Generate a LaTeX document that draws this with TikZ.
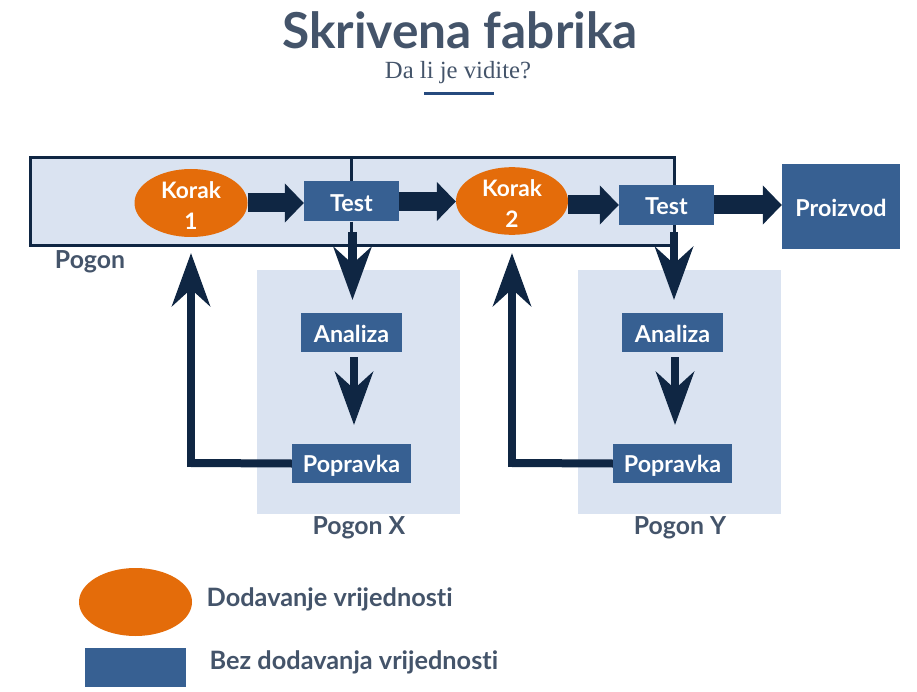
\documentclass[tikz,border=0pt]{standalone}
\usepackage{fontspec}
\setmainfont{Lato}[Ligatures=NoCommon]
\newfontfamily\serifsub{Liberation Serif}
\usetikzlibrary{arrows.meta,shapes.geometric,calc}
\definecolor{paleblue}{HTML}{DAE3F1}
\definecolor{navy}{HTML}{0F2643}
\definecolor{boxblue}{HTML}{376092}
\definecolor{stepor}{HTML}{E46C0A}
\definecolor{slate}{HTML}{44546A}
\definecolor{rulecol}{HTML}{264A7E}
\newcommand{\lowr}[2]{\raisebox{-#1pt}[\height][\depth]{#2}}
\tikzset{
  pxfont/.style={font=\fontsize{#1}{#1}\selectfont\bfseries},
  zone/.style={fill=paleblue,draw=none,inner sep=0pt,anchor=north west},
  bluebox/.style={fill=boxblue,draw=none,inner sep=0pt,text=white,pxfont=23.3},
  stepell/.style={ellipse,fill=stepor,draw=none,inner sep=0pt,text=white,align=center,
     font=\fontsize{22.7}{31}\selectfont\bfseries},
  lbl/.style={text=slate,inner sep=0pt,pxfont=24.8},
  legendlbl/.style={text=slate,inner sep=0pt,pxfont=25.3},
  fatarrow/.style={draw=navy,fill=navy,line width=19pt,
     -{Stealth[length=19pt,width=38pt,inset=0pt,fill=navy]}},
  slimarrow/.style={draw=navy,fill=navy,line width=8.5pt,
     -{Stealth[length=53pt,width=38pt,inset=17pt,fill=navy]}},
  frameline/.style={draw=navy,line width=3pt},
  elbow/.style={draw=navy,line width=8pt}
}
\begin{document}
\begin{tikzpicture}[x=1pt,y=-1pt]
\useasboundingbox (0,0) rectangle (917,692);
% title
\node[text=slate,inner sep=0pt,pxfont=49.6] (title) at (460,30) {Skrivena fabrika};
\node[text=slate,inner sep=0pt,font=\fontsize{24.7}{26}\selectfont\serifsub] (sub) at (458,72.5) {Da li je vidite?};
\node[fill=rulecol,minimum width=70pt,minimum height=3.5pt,inner sep=0pt] (rule) at (459,93.5) {};
% zones
\node[zone,minimum width=644pt,minimum height=87pt] (pogon) at (30,158) {};
\node[zone,minimum width=203pt,minimum height=244pt] (zx) at (257,270) {};
\node[zone,minimum width=203pt,minimum height=244pt] (zy) at (578,270) {};
\draw[frameline] (pogon.north west) rectangle (pogon.south east);
% process nodes
\node[stepell,minimum width=113pt,minimum height=68pt] (k1) at (191,203) {\lowr{2.5}{Korak}\\\lowr{2.5}{1}};
\node[stepell,minimum width=112pt,minimum height=67pt] (k2) at (512,201) {\lowr{2.5}{Korak}\\\lowr{2.5}{2}};
\node[bluebox,minimum width=95pt,minimum height=40pt] (t1) at (351.5,201.5) {\lowr{1.5}{Test}};
\node[bluebox,minimum width=95pt,minimum height=40pt] (t2) at (666.5,205) {\lowr{1.5}{Test}};
\node[bluebox,minimum width=118pt,minimum height=85pt] (prod) at (841,206.5) {\lowr{1}{Proizvod}};
\node[bluebox,minimum width=101pt,minimum height=39pt] (a1) at (351.5,332.5) {\lowr{1}{Analiza}};
\node[bluebox,minimum width=101pt,minimum height=39pt] (a2) at (672.5,332.5) {\lowr{1}{Analiza}};
\node[bluebox,minimum width=119pt,minimum height=39pt] (p1) at (351.5,463.5) {\lowr{2.5}{Popravka}};
\node[bluebox,minimum width=119pt,minimum height=39pt] (p2) at (672.5,463.5) {\lowr{2.5}{Popravka}};
% labels
\node[lbl,anchor=center] (lp) at (90,262) {Pogon};
\node[lbl,anchor=center] (lx) at (359,528) {Pogon X};
\node[lbl,anchor=center] (ly) at (680,528) {Pogon Y};
% frame ticks
\draw[frameline] (pogon.north -| t1.north) -- (t1.north);
\draw[frameline] (t1.south) -- (t1.south |- pogon.south);
% free ends
\coordinate (t1start) at (352.5,232);
\coordinate (t1tip) at (352.5,300);
\coordinate (t2start) at (674,232);
\coordinate (t2tip) at (674,300);
\coordinate (k1tip) at (191,253);
\coordinate (k2tip) at (512,253);
\coordinate (a1start) at (354,357);
\coordinate (a1tip) at (354,425);
\coordinate (a2start) at (675,357);
\coordinate (a2tip) at (675,425);
\coordinate (c1) at (191,463);
\coordinate (c2) at (512,463);
% connectors
\draw[fatarrow] (k1.east) -- (k1.east -| t1.west);
\draw[fatarrow] (t1.east) -- (t1.east -| k2.west);
\draw[fatarrow] (k2.east |- t2.west) -- (t2.west);
\draw[fatarrow] (t2.east) -- (t2.east -| prod.west);
\draw[slimarrow] (t1start) -- (t1tip);
\draw[slimarrow] (t2start) -- (t2tip);
\draw[slimarrow] (a1start) -- (a1tip);
\draw[slimarrow] (a2start) -- (a2tip);
\draw[elbow] (p1.west) -- (c1);
\draw[elbow] (p2.west) -- (c2);
\draw[slimarrow] (191,467) -- (k1tip);
\draw[slimarrow] (512,467) -- (k2tip);
% legend
\node[ellipse,fill=stepor,draw=none,inner sep=0pt,minimum width=113pt,minimum height=68pt] (le) at (135.5,602) {};
\node[fill=boxblue,draw=none,inner sep=0pt,minimum width=101pt,minimum height=39pt] (lr) at (135.5,667.5) {};
\node[legendlbl,anchor=west] (lt1) at (206.5,599.5) {Dodavanje vrijednosti};
\node[legendlbl,anchor=west] (lt2) at (209.5,662.5) {Bez dodavanja vrijednosti};
\end{tikzpicture}
\end{document}
